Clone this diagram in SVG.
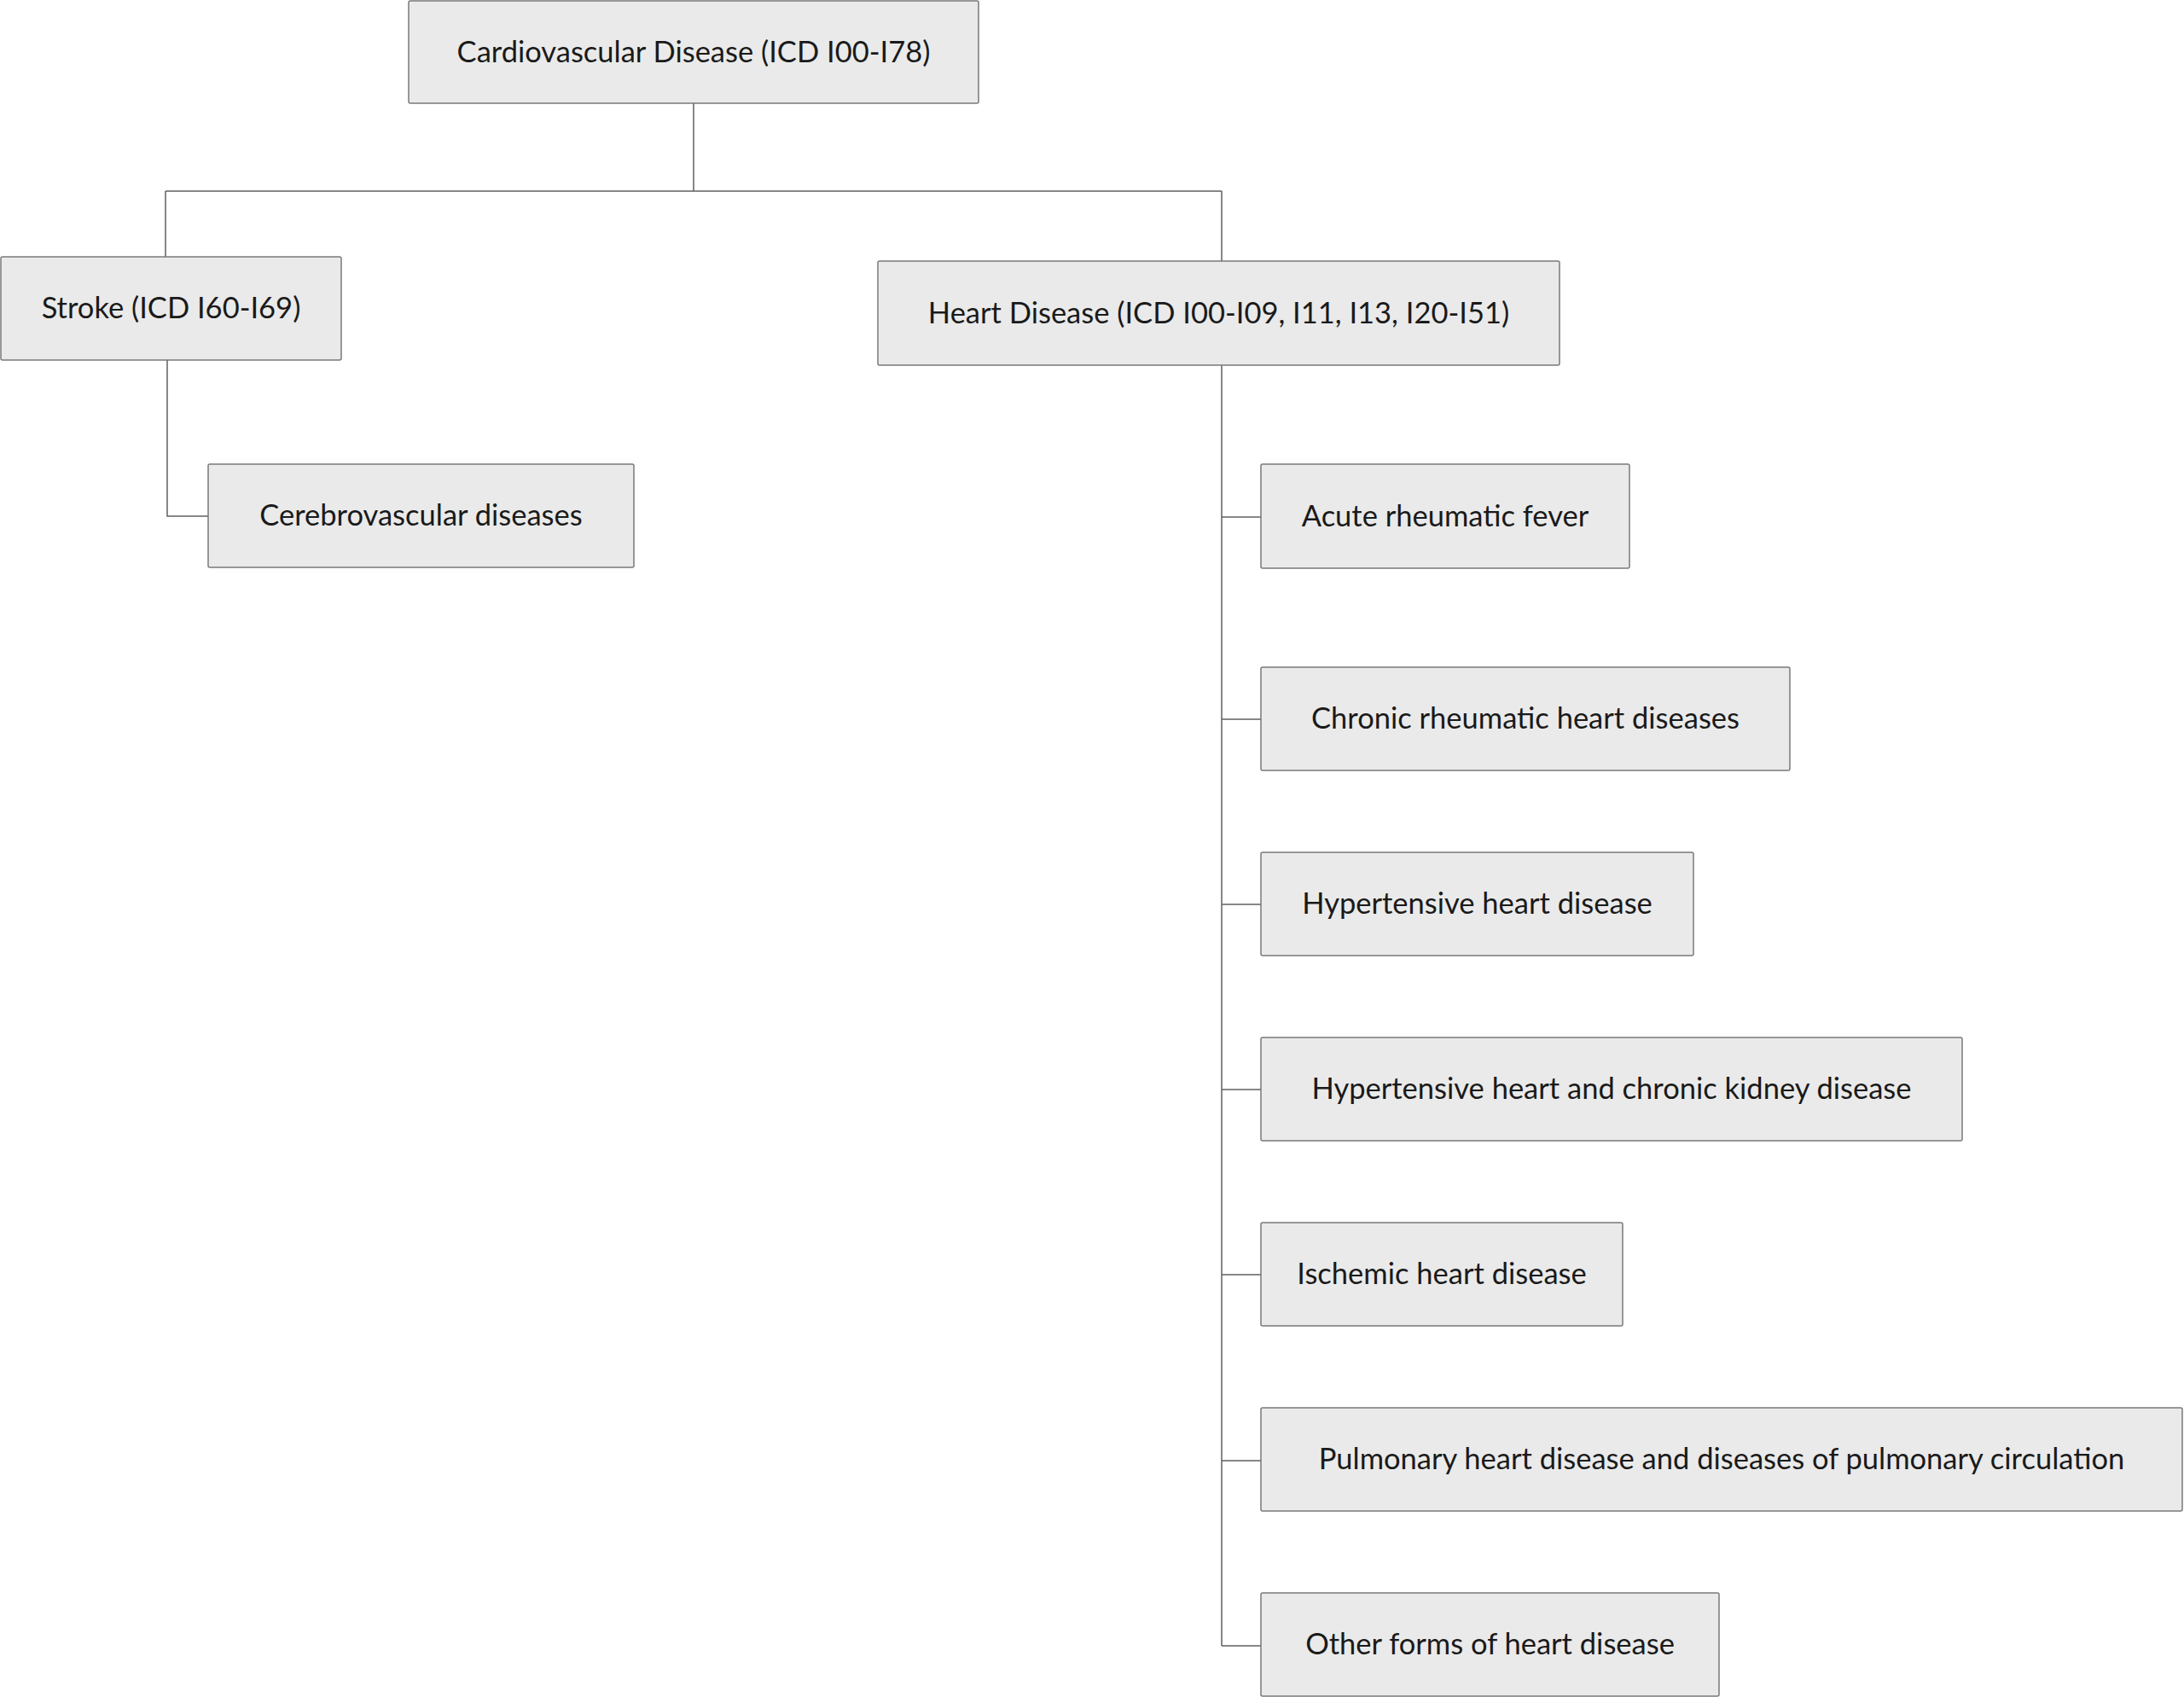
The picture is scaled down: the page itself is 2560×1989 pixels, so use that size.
<svg xmlns="http://www.w3.org/2000/svg" width="2560" height="1989" viewBox="0 0 2560 1989">
<style>
.box{fill:#eaeaea;stroke:#7a7a7a;stroke-width:1.5}
.lbl{font-family:Lato,"Liberation Sans",sans-serif;font-size:34.5px;fill:#1a1a1a;text-anchor:middle;dominant-baseline:central}
.conn{fill:none;stroke:#606060;stroke-width:1.5}
</style>
<rect width="2560" height="1989" fill="#ffffff"/>
<g id="connectors" class="conn">
<path d="M813 121V224M194 224H1432M194 224V301M1432 224V306"/>
<path d="M196 422V605H244"/>
<path d="M1432 428V1929M1432 606H1478M1432 843H1478M1432 1060H1478M1432 1277H1478M1432 1494H1478M1432 1712H1478M1432 1929H1478"/>
</g>
<g id="cvd"><rect class="box" x="479" y="1" width="668" height="120" rx="2"/><text class="lbl" x="813" y="59">Cardiovascular Disease (ICD I00-I78)</text></g>
<g id="stroke"><rect class="box" x="1" y="301" width="399" height="121" rx="2"/><text class="lbl" x="200.5" y="359.5">Stroke (ICD I60-I69)</text></g>
<g id="cerebro"><rect class="box" x="244" y="544" width="499" height="121" rx="2"/><text class="lbl" x="493.5" y="602.5">Cerebrovascular diseases</text></g>
<g id="heart"><rect class="box" x="1029" y="306" width="799" height="122" rx="2"/><text class="lbl" x="1428.5" y="365">Heart Disease (ICD I00-I09, I11, I13, I20-I51)</text></g>
<g id="acute"><rect class="box" x="1478" y="544" width="432" height="122" rx="2"/><text class="lbl" x="1694" y="603">Acute rheumatic fever</text></g>
<g id="chronic"><rect class="box" x="1478" y="782" width="620" height="121" rx="2"/><text class="lbl" x="1788" y="840.5">Chronic rheumatic heart diseases</text></g>
<g id="hypertensive"><rect class="box" x="1478" y="999" width="507" height="121" rx="2"/><text class="lbl" x="1731.5" y="1057.5">Hypertensive heart disease</text></g>
<g id="ckd"><rect class="box" x="1478" y="1216" width="822" height="121" rx="2"/><text class="lbl" x="1889" y="1274.5">Hypertensive heart and chronic kidney disease</text></g>
<g id="ischemic"><rect class="box" x="1478" y="1433" width="424" height="121" rx="2"/><text class="lbl" x="1690" y="1491.5">Ischemic heart disease</text></g>
<g id="pulmonary"><rect class="box" x="1478" y="1650" width="1080" height="121" rx="2"/><text class="lbl" x="2018" y="1708.5">Pulmonary heart disease and diseases of pulmonary circulation</text></g>
<g id="other"><rect class="box" x="1478" y="1867" width="537" height="121" rx="2"/><text class="lbl" x="1746.5" y="1925.5">Other forms of heart disease</text></g>
</svg>
